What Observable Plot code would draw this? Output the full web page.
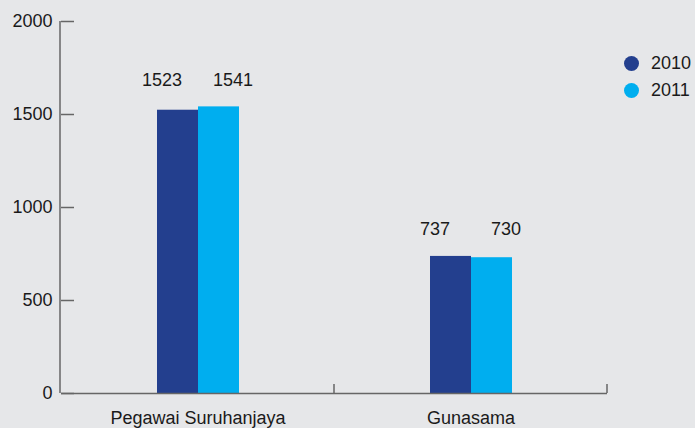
<!DOCTYPE html>
<html>
<head>
<meta charset="utf-8">
<script src="https://cdn.jsdelivr.net/npm/d3@7"></script>
<script src="https://cdn.jsdelivr.net/npm/@observablehq/plot@0.6"></script>
<style>
  html, body { margin: 0; padding: 0; background: #e6e7e9; }
  #wrap { position: relative; width: 695px; height: 428px; background: #e6e7e9; font-family: "Liberation Sans", Arial, sans-serif; }
  #legend { position: absolute; left: 624px; top: 50px; font-size: 18px; color: #1a1a1a; }
  .item { display: flex; align-items: center; height: 27px; }
  .dot { width: 15px; height: 15px; border-radius: 50%; margin-right: 12px; }
</style>
</head>
<body>
<div id="wrap"><div id="legend"></div></div>
<script>
const groups = ["Pegawai Suruhanjaya", "Gunasama"];
const years = ["2010", "2011"];
const values2010 = [1523, 737];
const values2011 = [1541, 730];
const yTicks = [0, 500, 1000, 1500, 2000];
const colors = ["#233f8e", "#00aeef"];

const data = groups.flatMap((g, i) => [
  {group: g, year: years[0], value: values2010[i]},
  {group: g, year: years[1], value: values2011[i]}
]);
const groupMax = new Map(groups.map((g, i) => [g, Math.max(values2010[i], values2011[i])]));

const axisColor = "#666";

const chart = Plot.plot({
  width: 695,
  height: 428,
  marginLeft: 60,
  marginRight: 88,
  marginTop: 21,
  marginBottom: 35,
  style: {background: "transparent", fontFamily: "'Liberation Sans', Arial, sans-serif", fontSize: "18px", color: "#1a1a1a", overflow: "visible"},
  fx: {domain: groups, padding: 0, label: null, axis: "bottom", tickSize: 0, tickPadding: 18, fontSize: 18.5},
  x: {domain: years, axis: null, paddingInner: 0, paddingOuter: 2.3},
  y: {domain: [0, 2000], axis: null},
  color: {domain: years, range: colors},
  marks: [
    Plot.barY(data, {fx: "group", x: "year", y: "value", fill: "year"}),
    Plot.ruleY([0], {stroke: axisColor, strokeWidth: 1.5}),
    Plot.axisY({ticks: yTicks, tickSize: -13, tickPadding: 22, stroke: axisColor, strokeWidth: 1.5, label: null, tickFormat: d => String(d), fontSize: 18, fill: "#1a1a1a"}),
    Plot.text(data, {fx: "group", x: "year", y: d => groupMax.get(d.group), text: d => String(d.value),
      lineAnchor: "bottom", dy: -21, fontSize: 18, fill: "#1a1a1a",
      filter: d => d.year === years[0], dx: -16}),
    Plot.text(data, {fx: "group", x: "year", y: d => groupMax.get(d.group), text: d => String(d.value),
      lineAnchor: "bottom", dy: -21, fontSize: 18, fill: "#1a1a1a",
      filter: d => d.year === years[1], dx: 14})
  ]
});

document.getElementById("wrap").prepend(chart);

// axis line and group boundary ticks, derived from Plot's scales
const fx = chart.scale("fx");
const y = chart.scale("y");
const svg = d3.select(chart);
const [r0, r1] = fx.range;
svg.append("line")
  .attr("x1", r0).attr("x2", r0)
  .attr("y1", y.apply(0)).attr("y2", y.apply(2000))
  .attr("stroke", axisColor).attr("stroke-width", 1.5);
groups.forEach(g => {
  const xb = fx.apply(g) + fx.bandwidth;
  svg.append("line")
    .attr("x1", xb).attr("x2", xb)
    .attr("y1", y.apply(0)).attr("y2", y.apply(0) - 9)
    .attr("stroke", axisColor).attr("stroke-width", 1.5);
});

const legend = document.getElementById("legend");
years.forEach((yr, i) => {
  const it = document.createElement("div");
  it.className = "item";
  it.innerHTML = `<span class="dot" style="background:${colors[i]}"></span><span>${yr}</span>`;
  legend.appendChild(it);
});
</script>
</body>
</html>
